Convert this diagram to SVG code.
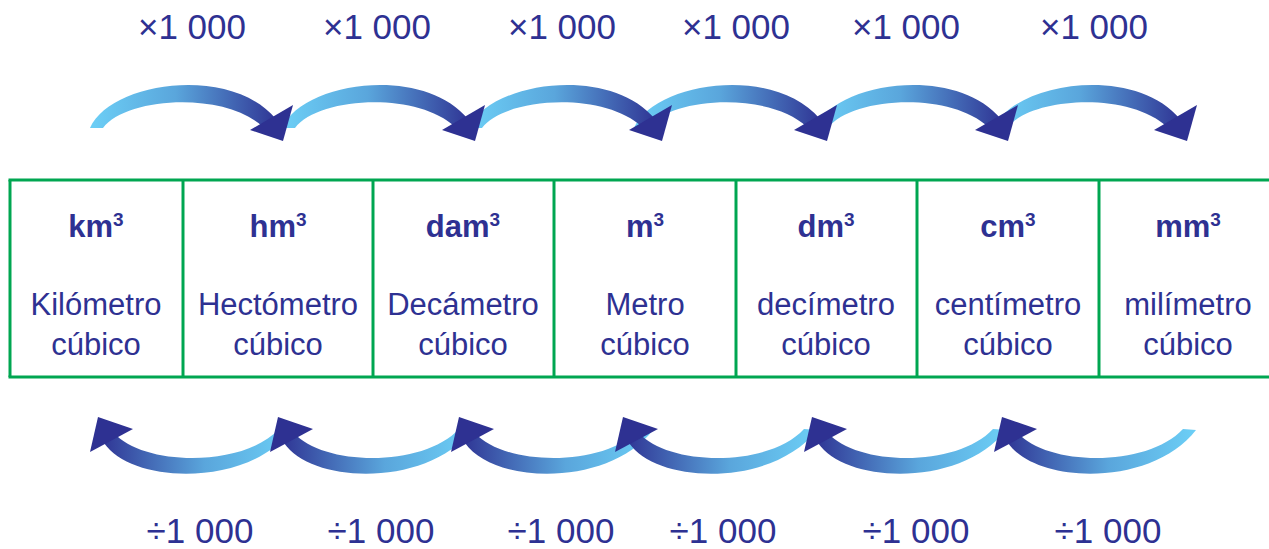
<svg xmlns="http://www.w3.org/2000/svg" xmlns:xlink="http://www.w3.org/1999/xlink" width="1269" height="549" viewBox="0 0 1269 549">
<style>
.lbl{font-family:"Liberation Sans",Arial,sans-serif;font-size:35px;fill:#2e3192;text-anchor:middle}
.unit{font-family:"Liberation Sans",Arial,sans-serif;font-size:31px;font-weight:bold;fill:#2e3192;text-anchor:middle}
.sup{font-size:19px}
.name{font-family:"Liberation Sans",Arial,sans-serif;font-size:31px;fill:#2e3192;text-anchor:middle}
.grid{stroke:#00a651;stroke-width:3;fill:none}
</style>
<defs>
<linearGradient id="gTop" gradientUnits="userSpaceOnUse" x1="0" y1="0" x2="190" y2="0">
<stop offset="0" stop-color="#6ccff6"/>
<stop offset="0.45" stop-color="#5aa6dc"/>
<stop offset="1" stop-color="#2e3192"/>
</linearGradient>
<linearGradient id="gBot" gradientUnits="userSpaceOnUse" x1="0" y1="0" x2="194" y2="0">
<stop offset="0" stop-color="#2e3192"/>
<stop offset="0.55" stop-color="#5aa6dc"/>
<stop offset="1" stop-color="#6ccff6"/>
</linearGradient>
<g id="arrowTop">
<path d="M0,0 C20,-46 140,-64 186,-9 L173,-1 C135,-37 36,-31 13,0 Z" fill="url(#gTop)"/>
<polygon points="160,2 203,-23 193,13" fill="#2e3192"/>
</g>
<g id="arrowBot">
<path d="M6,26 C35,68 150,70 194,13 L181,12 C145,51 45,49 16,16 Z" fill="url(#gBot)"/>
<polygon points="0,0 -8,35 35,12" fill="#2e3192"/>
</g>
</defs>

<g id="connectors">
<use xlink:href="#arrowTop" transform="translate(994,128)"/>
<use xlink:href="#arrowTop" transform="translate(815,128)"/>
<use xlink:href="#arrowTop" transform="translate(634,128)"/>
<use xlink:href="#arrowTop" transform="translate(469,128)"/>
<use xlink:href="#arrowTop" transform="translate(282,128)"/>
<use xlink:href="#arrowTop" transform="translate(90,128)"/>
<use xlink:href="#arrowBot" transform="translate(98,417)"/>
<use xlink:href="#arrowBot" transform="translate(278,417)"/>
<use xlink:href="#arrowBot" transform="translate(459,417)"/>
<use xlink:href="#arrowBot" transform="translate(623,417)"/>
<use xlink:href="#arrowBot" transform="translate(812,417)"/>
<use xlink:href="#arrowBot" transform="translate(1002,417)"/>
</g>

<g id="top-labels">
<text class="lbl" x="192" y="39">×1 000</text>
<text class="lbl" x="377" y="39">×1 000</text>
<text class="lbl" x="562" y="39">×1 000</text>
<text class="lbl" x="736" y="39">×1 000</text>
<text class="lbl" x="906" y="39">×1 000</text>
<text class="lbl" x="1094" y="39">×1 000</text>
</g>
<g id="bottom-labels">
<text class="lbl" x="200" y="543">÷1 000</text>
<text class="lbl" x="381" y="543">÷1 000</text>
<text class="lbl" x="561" y="543">÷1 000</text>
<text class="lbl" x="723" y="543">÷1 000</text>
<text class="lbl" x="916" y="543">÷1 000</text>
<text class="lbl" x="1108" y="543">÷1 000</text>
</g>

<g id="table">
<line class="grid" x1="8.5" y1="180" x2="1269" y2="180"/>
<line class="grid" x1="8.5" y1="377" x2="1269" y2="377"/>
</g>
<g id="km3">
<line class="grid" x1="10" y1="180" x2="10" y2="377"/>
<text class="unit" x="96" y="237">km<tspan class="sup" dy="-11">3</tspan></text>
<text class="name" x="96" y="315">Kilómetro</text>
<text class="name" x="96" y="355">cúbico</text>
</g>
<g id="hm3">
<line class="grid" x1="183" y1="180" x2="183" y2="377"/>
<text class="unit" x="278" y="237">hm<tspan class="sup" dy="-11">3</tspan></text>
<text class="name" x="278" y="315">Hectómetro</text>
<text class="name" x="278" y="355">cúbico</text>
</g>
<g id="dam3">
<line class="grid" x1="373" y1="180" x2="373" y2="377"/>
<text class="unit" x="463" y="237">dam<tspan class="sup" dy="-11">3</tspan></text>
<text class="name" x="463" y="315">Decámetro</text>
<text class="name" x="463" y="355">cúbico</text>
</g>
<g id="m3">
<line class="grid" x1="554" y1="180" x2="554" y2="377"/>
<text class="unit" x="645" y="237">m<tspan class="sup" dy="-11">3</tspan></text>
<text class="name" x="645" y="315">Metro</text>
<text class="name" x="645" y="355">cúbico</text>
</g>
<g id="dm3">
<line class="grid" x1="736" y1="180" x2="736" y2="377"/>
<text class="unit" x="826" y="237">dm<tspan class="sup" dy="-11">3</tspan></text>
<text class="name" x="826" y="315">decímetro</text>
<text class="name" x="826" y="355">cúbico</text>
</g>
<g id="cm3">
<line class="grid" x1="917" y1="180" x2="917" y2="377"/>
<text class="unit" x="1008" y="237">cm<tspan class="sup" dy="-11">3</tspan></text>
<text class="name" x="1008" y="315">centímetro</text>
<text class="name" x="1008" y="355">cúbico</text>
</g>
<g id="mm3">
<line class="grid" x1="1099" y1="180" x2="1099" y2="377"/>
<text class="unit" x="1188" y="237">mm<tspan class="sup" dy="-11">3</tspan></text>
<text class="name" x="1188" y="315">milímetro</text>
<text class="name" x="1188" y="355">cúbico</text>
</g>
</svg>
